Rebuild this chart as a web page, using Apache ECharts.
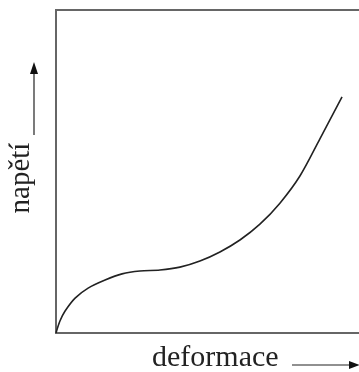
<!DOCTYPE html>
<html>
<head>
<meta charset="utf-8">
<script src="https://cdn.jsdelivr.net/npm/echarts@6/dist/echarts.min.js"></script>
<style>
html,body{margin:0;padding:0;background:#fff;}
#c{width:359px;height:372px;}
</style>
</head>
<body>
<div id="c"></div>
<script>
// deformace (strain, arbitrary units)
const strain = [0, 1.3, 3.0, 6.3, 10.6, 16.2, 21.8, 27.7, 34.3, 40.9, 47.5, 54.1, 60.7, 67.3, 73.9, 80.5, 87.1, 94.4];
// napětí (stress, arbitrary units)
const stress = [0, 3.7, 6.8, 10.8, 13.9, 16.4, 18.3, 19.2, 19.5, 20.4, 22.3, 25.1, 28.8, 33.7, 40.2, 48.6, 60.1, 73.1];
const xLabel = 'deformace';
const yLabel = 'napětí';

const data = strain.map((x, i) => [x, stress[i]]);
const chart = echarts.init(document.getElementById('c'));
const font = '"Liberation Serif", "Times New Roman", serif';
const hidden = {axisLine: {show: false}, axisTick: {show: false}, axisLabel: {show: false}, splitLine: {show: false}};
const frameStyle = {stroke: '#666', lineWidth: 2};
chart.setOption({
  animation: false,
  grid: {left: 56, top: 10, bottom: 39, right: 0},
  xAxis: Object.assign({type: 'value', min: 0, max: 100}, hidden),
  yAxis: Object.assign({type: 'value', min: 0, max: 100}, hidden),
  series: [{type: 'line', data: data, smooth: 0.3, showSymbol: false, lineStyle: {color: '#222', width: 1.6}}],
  graphic: [
    {type: 'polyline', shape: {points: [[362, 10], [56, 10], [56, 333], [362, 333]]}, style: Object.assign({fill: null}, frameStyle)},
    {type: 'text', x: 152, y: 358, style: {text: xLabel, font: '30px ' + font, fill: '#222', align: 'left', verticalAlign: 'middle'}},
    {type: 'text', x: 21, y: 178, rotation: Math.PI / 2, style: {text: yLabel, font: '29px ' + font, fill: '#222', align: 'center', verticalAlign: 'middle'}},
    {type: 'line', shape: {x1: 34, y1: 135, x2: 34, y2: 72}, style: {stroke: '#222', lineWidth: 1.2}},
    {type: 'polygon', shape: {points: [[30, 74], [38, 74], [34, 62]]}, style: {fill: '#111'}},
    {type: 'line', shape: {x1: 292, y1: 365, x2: 350, y2: 365}, style: {stroke: '#222', lineWidth: 1.2}},
    {type: 'polygon', shape: {points: [[349, 361], [349, 369], [360, 365]]}, style: {fill: '#111'}}
  ]
});
</script>
</body>
</html>
